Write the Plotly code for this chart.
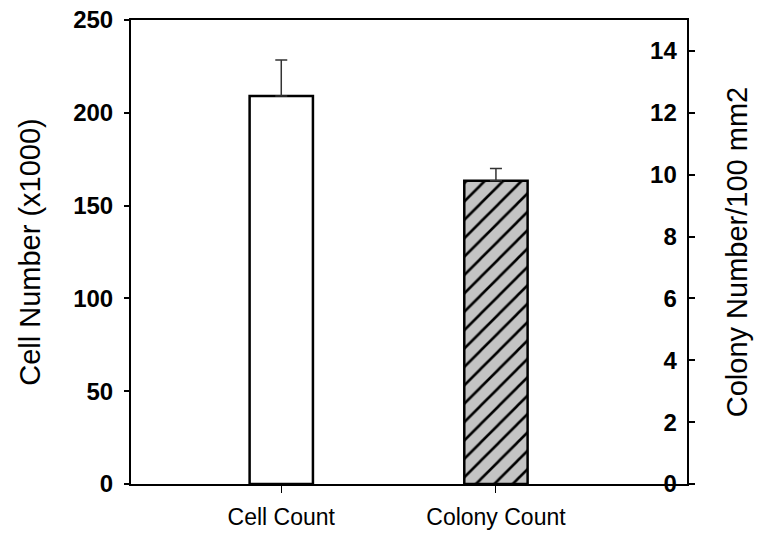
import plotly.graph_objects as go

categories = ["Cell Count", "Colony Count"]
cell_values = [209]
cell_err = [19.5]
colony_values = [9.8]
colony_err = [0.4]
left_ticks = [0, 50, 100, 150, 200, 250]
right_ticks = [0, 2, 4, 6, 8, 10, 12, 14]

tick_font = dict(family="Liberation Sans, Arial", size=24, color="black", weight="bold")
title_font = dict(family="Liberation Sans, Arial", size=29, color="black")

fig = go.Figure()
fig.add_trace(go.Bar(
    x=[categories[0]], y=cell_values, width=0.295, yaxis="y",
    marker=dict(color="white", line=dict(color="black", width=2.5)),
    error_y=dict(type="data", symmetric=False, array=cell_err, arrayminus=[0],
                 color="#333333", thickness=1.5, width=6),
    showlegend=False,
))
fig.add_trace(go.Bar(
    x=[categories[1]], y=colony_values, width=0.295, yaxis="y2",
    marker=dict(color="#c4c4c4", line=dict(color="black", width=2.5),
                pattern=dict(shape="/", fgcolor="black", fgopacity=1, bgcolor="#c4c4c4",
                             size=13, solidity=0.2, fillmode="overlay")),
    error_y=dict(type="data", symmetric=False, array=colony_err, arrayminus=[0],
                 color="#333333", thickness=1.5, width=6),
    showlegend=False,
))

fig.update_layout(
    width=755, height=526,
    margin=dict(l=123, r=76, t=12, b=50),
    paper_bgcolor="white", plot_bgcolor="white",
    barmode="overlay",
    xaxis=dict(type="category", categoryorder="array", categoryarray=categories,
               range=[-0.7, 1.89], showline=True, linecolor="black", linewidth=2,
               mirror=True, ticks="outside", ticklen=7, tickwidth=1, tickcolor="black",
               tickfont=dict(family="Liberation Sans, Arial", size=23, color="black"),
               ticklabelstandoff=4,
               showgrid=False, zeroline=False, automargin=False),
    yaxis=dict(range=[0, 250], tickvals=left_ticks, showline=True, linecolor="black",
               linewidth=2, ticks="outside", ticklen=5, tickwidth=1.5, tickcolor="black",
               tickfont=tick_font, showgrid=False, zeroline=False, automargin=False,
               ticklabelstandoff=6, ticklabeloverflow="allow",
               title=dict(text="Cell Number (x1000)", font=title_font, standoff=24)),
    yaxis2=dict(range=[0, 15], tickvals=right_ticks, overlaying="y", side="right",
                showline=True, linecolor="black", linewidth=2, ticks="outside",
                ticklen=6, tickwidth=1.5, tickcolor="black", tickfont=tick_font,
                ticklabelposition="inside", ticklabeloverflow="allow",
                ticklabelstandoff=12, automargin=False,
                showgrid=False, zeroline=False,
                title=dict(text="Colony Number/100 mm2", font=title_font, standoff=50)),
)

fig.write_html("out.html")
